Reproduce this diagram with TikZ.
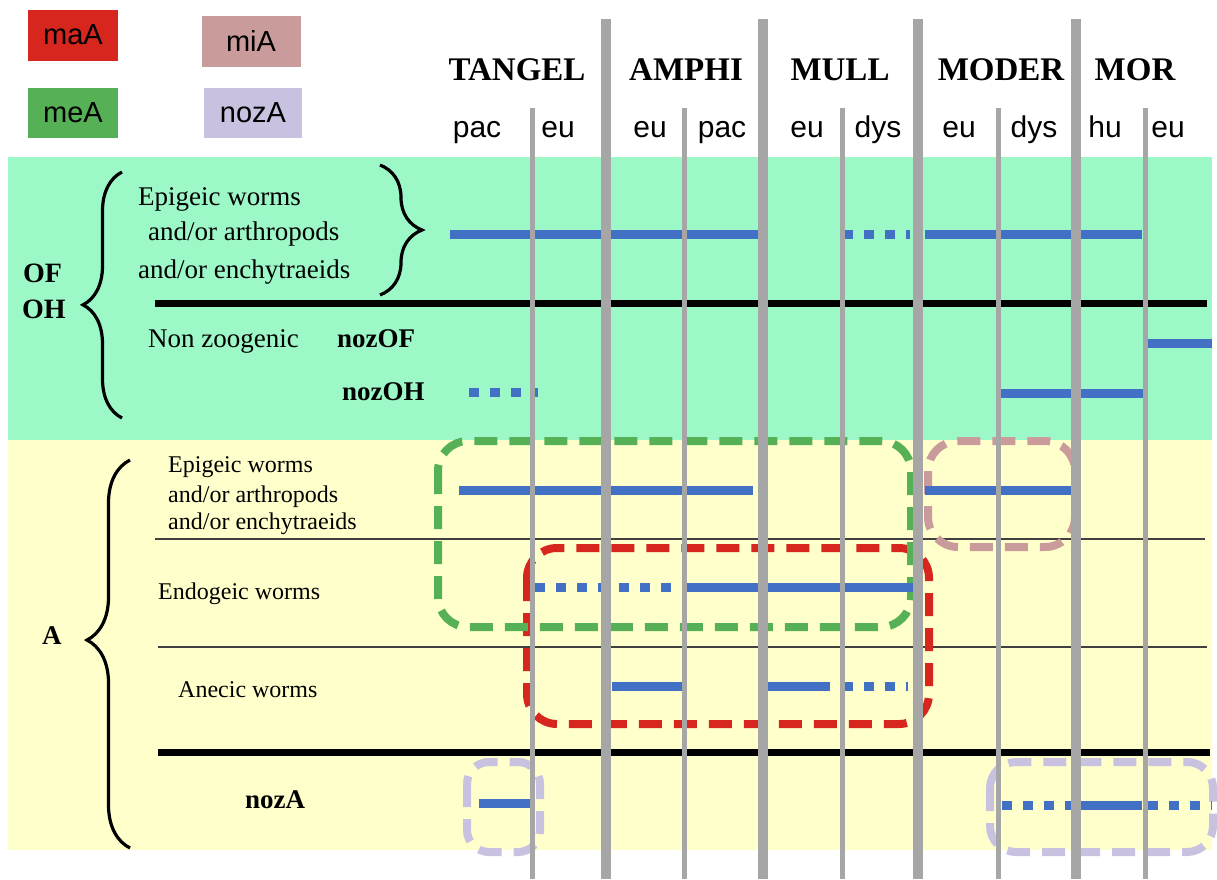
\documentclass[tikz,border=0pt]{standalone}
\usepackage{fontspec}
\setmainfont{Liberation Serif}
\setsansfont{Liberation Sans}
\usetikzlibrary{decorations.pathreplacing}

\definecolor{ofgreen}{RGB}{157,248,200}
\definecolor{ayellow}{RGB}{255,255,204}
\definecolor{barblue}{RGB}{66,112,196}
\definecolor{sepgray}{RGB}{166,166,166}
\definecolor{maAred}{RGB}{214,38,30}
\definecolor{miApink}{RGB}{201,155,155}
\definecolor{meAgreen}{RGB}{86,176,86}
\definecolor{nozAlilac}{RGB}{200,194,224}

\tikzset{
  legend/.style={rectangle, inner sep=0pt, font=\sffamily\fontsize{29}{29}\selectfont},
  head/.style={anchor=base, inner sep=0pt, font=\bfseries\fontsize{33}{33}\selectfont},
  sub/.style={anchor=base, inner sep=0pt, font=\sffamily\fontsize{30}{30}\selectfont},
  txt/.style={anchor=base west, inner sep=0pt, font=\fontsize{27}{27}\selectfont},
  smalltxt/.style={anchor=base west, inner sep=0pt, font=\fontsize{24}{24}\selectfont},
  bar/.style={barblue, line width=9pt},
  dotbar/.style={barblue, line width=9pt, dash pattern=on 10pt off 11pt},
  group/.style={line width=8pt, dash pattern=on 23pt off 12pt, rounded corners=30pt},
  thickrule/.style={line width=7pt},
  thinrule/.style={line width=1.5pt, black!75},
  curly/.style={line width=3.2pt, decorate, decoration={brace, amplitude=#1}},
}

\begin{document}
\begin{tikzpicture}[x=1pt, y=-1pt]
  \useasboundingbox (0,0) rectangle (1217,879);

  % the two horizons
  \fill[ofgreen] (8,157) rectangle (1212,440);
  \fill[ayellow] (8,440) rectangle (1212,850);

  % legend
  \node[legend, fill=maAred, minimum width=90pt, minimum height=51pt] (legmaA) at (73,35) {maA};
  \node[legend, fill=miApink, minimum width=99pt, minimum height=51pt] (legmiA) at (251,41) {miA};
  \node[legend, fill=meAgreen, minimum width=90pt, minimum height=50pt] (legmeA) at (73,113) {meA};
  \node[legend, fill=nozAlilac, minimum width=98pt, minimum height=50pt] (legnozA) at (253,113) {nozA};

  % humus forms and their subtypes
  \node[head] (tangel) at (517,80) {TANGEL};
  \node[head] (amphi) at (686,80) {AMPHI};
  \node[head] (mull) at (840,80) {MULL};
  \node[head] (moder) at (1001,80) {MODER};
  \node[head] (mor) at (1135,80) {MOR};
  \foreach \x/\t [count=\i] in {477/pac, 558/eu, 650/eu, 722/pac, 807/eu,
                                 878/dys, 959/eu, 1034/dys, 1105/hu, 1168/eu}
      \node[sub] (sub\i) at (\x,137) {\t};

  % OF / OH
  \node[anchor=base west, inner sep=0pt, font=\bfseries\fontsize{28}{28}\selectfont] (of) at (23,282) {OF};
  \node[anchor=base west, inner sep=0pt, font=\bfseries\fontsize{28}{28}\selectfont] (oh) at (22,318) {OH};
  \draw[curly=39pt, decoration={aspect=0.46}] (122,418) -- (122,172);
  \node[txt] (ofepi1) at (138,205) {Epigeic worms};
  \node[txt] (ofepi2) at (148,240) {and/or arthropods};
  \node[txt] (ofepi3) at (138,278) {and/or enchytraeids};
  \draw[curly=42pt, decoration={aspect=0.5}] (380,165) -- (380,295);
  \draw[thickrule] (155,303) -- (1207,303);
  \node[txt] (nonzoo) at (148,347) {Non zoogenic};
  \node[txt, font=\bfseries\fontsize{27}{27}\selectfont] (nozof) at (337,347) {nozOF};
  \node[txt, font=\bfseries\fontsize{27}{27}\selectfont] (nozoh) at (342,400) {nozOH};

  % A
  \node[anchor=base west, inner sep=0pt, font=\bfseries\fontsize{27}{27}\selectfont] (ahor) at (42,644) {A};
  \draw[curly=43pt, decoration={aspect=0.536}] (130,848) -- (130,460);
  \node[smalltxt] (aepi1) at (168,472) {Epigeic worms};
  \node[smalltxt] (aepi2) at (168,502) {and/or arthropods};
  \node[smalltxt] (aepi3) at (168,529) {and/or enchytraeids};
  \draw[thinrule] (155,539) -- (1205,539);
  \node[smalltxt] (endo) at (158,599) {Endogeic worms};
  \draw[thinrule] (158,647) -- (1207,647);
  \node[smalltxt] (anec) at (178,697) {Anecic worms};
  \draw[thickrule] (158,752) -- (1210,752);
  \node[txt, font=\bfseries\fontsize{27}{27}\selectfont] (noza) at (245,808) {nozA};

  % groups
  \draw[group, maAred] (527,548) rectangle (929,724);
  \draw[group, meAgreen] (438,441) rectangle (911,627);
  \draw[group, miApink] (928,441) rectangle (1075,547);
  \draw[group, nozAlilac, rounded corners=22pt] (467,762) rectangle (540,852);
  \draw[group, nozAlilac, rounded corners=26pt] (990,762) rectangle (1213,852);

  % occurrence bars
  \draw[bar] (450,234) -- (758,234);
  \draw[dotbar] (843,234) -- (910,234);
  \draw[bar] (925,234) -- (1142,234);
  \draw[bar] (1147,343) -- (1212,343);
  \draw[dotbar] (469,392) -- (538,392);
  \draw[bar] (998,393) -- (1144,393);

  \draw[bar] (459,490) -- (753,490);
  \draw[bar] (925,490) -- (1071,490);
  \draw[dotbar] (535,587) -- (682,587);
  \draw[bar] (685,587) -- (913,587);
  \draw[bar] (612,686) -- (682,686);
  \draw[bar] (768,686) -- (830,686);
  \draw[dotbar] (843,686) -- (908,686);
  \draw[bar] (479,803) -- (533,803);
  \draw[dotbar] (1002,805) -- (1072,805);
  \draw[bar] (1081,805) -- (1142,805);
  \draw[dotbar] (1148,805) -- (1212,805);

  % separators
  \foreach \x in {532,684,842,998,1145}
      \draw[sepgray, line width=5pt] (\x,108) -- (\x,879);
  \foreach \x in {606,763,918,1076}
      \draw[sepgray, line width=10pt] (\x,19) -- (\x,879);
\end{tikzpicture}
\end{document}
